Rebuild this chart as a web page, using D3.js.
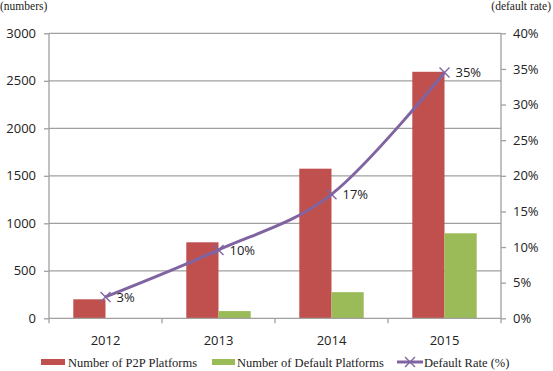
<!DOCTYPE html>
<html><head><meta charset="utf-8">
<script src="https://cdn.jsdelivr.net/npm/d3@7"></script>
<style>body{margin:0;background:#fff}svg{display:block}</style>
</head><body>
<script>
const years = ["2012","2013","2014","2015"];
const p2pPlatforms = [200, 800, 1575, 2595];
const defaultPlatforms = [0, 76, 275, 895];
const defaultRate = [3.0, 9.6, 17.4, 34.5];
const rateLabels = ["3%","10%","17%","35%"];
const leftTicks = [0,500,1000,1500,2000,2500,3000];
const rightTicks = [0,5,10,15,20,25,30,35,40];

const W=553,H=371;
const L=49,R=501,T=33.3,B=318.3;
const svg=d3.select("body").append("svg").attr("width",W).attr("height",H);
const sans="'Open Sans', sans-serif", serif="'Liberation Serif','Times New Roman',serif";
const grid="#a0a0a0";

const x=d3.scaleBand().domain(years).range([L,R]).padding(0);
const y=d3.scaleLinear().domain([0,3000]).range([B,T]);
const y2=d3.scaleLinear().domain([0,40]).range([B,T]);
const bw=x.bandwidth()*0.285;

// gridlines
svg.append("g").selectAll("line").data(leftTicks.slice(1)).join("line")
 .attr("x1",L).attr("x2",R).attr("y1",d=>y(d)).attr("y2",d=>y(d))
 .attr("stroke",grid).attr("stroke-width",1.3);

// bars
const cx=d=>x(d)+x.bandwidth()/2;
svg.append("g").selectAll("rect").data(years).join("rect")
 .attr("x",d=>cx(d)-bw).attr("width",bw)
 .attr("y",(d,i)=>y(p2pPlatforms[i])).attr("height",(d,i)=>B-y(p2pPlatforms[i]))
 .attr("fill","#c0504d");
svg.append("g").selectAll("rect").data(years).join("rect")
 .attr("x",d=>cx(d)).attr("width",bw)
 .attr("y",(d,i)=>y(defaultPlatforms[i])).attr("height",(d,i)=>B-y(defaultPlatforms[i]))
 .attr("fill","#9bbb59");

// left axis
const la=svg.append("g").attr("transform",`translate(${L},0)`)
 .call(d3.axisLeft(y).tickValues(leftTicks).tickSize(5).tickPadding(8).tickFormat(d3.format("d")));
la.select(".domain").attr("stroke",grid).attr("stroke-width",1.3).attr("d",`M0,${T}V${B}`);
la.selectAll(".tick line").attr("stroke",grid).attr("stroke-width",1.3);
la.selectAll("text").attr("font-family",sans).attr("font-size",13).attr("fill","#222");

// right axis
const ra=svg.append("g").attr("transform",`translate(${R},0)`)
 .call(d3.axisRight(y2).tickValues(rightTicks).tickSize(5).tickPadding(7).tickFormat(d=>d+"%"));
ra.select(".domain").attr("stroke",grid).attr("stroke-width",1.3).attr("d",`M0,${T}V${B}`);
ra.selectAll(".tick line").attr("stroke",grid).attr("stroke-width",1.3);
ra.selectAll("text").attr("font-family",sans).attr("font-size",13).attr("fill","#222");

// bottom axis
const ba=svg.append("g").attr("transform",`translate(0,${B})`)
 .call(d3.axisBottom(x).tickSize(0).tickPadding(17));
ba.select(".domain").attr("stroke",grid).attr("stroke-width",1.3).attr("d",`M${L},0H${R}`);
ba.selectAll("text").attr("font-family",sans).attr("font-size",13).attr("fill","#222");
svg.append("g").selectAll("line").data(d3.range(years.length+1)).join("line")
 .attr("x1",i=>L+i*x.step()).attr("x2",i=>L+i*x.step()).attr("y1",B).attr("y2",B+5)
 .attr("stroke",grid).attr("stroke-width",1.3);

// line
const pts=years.map((d,i)=>[cx(d),y2(defaultRate[i])]);
svg.append("path").attr("d",d3.line().curve(d3.curveCardinal.tension(0))(pts))
 .attr("fill","none").attr("stroke","#8064a2").attr("stroke-width",3);
const m=5;
svg.append("g").selectAll("path").data(pts).join("path")
 .attr("d",p=>`M${p[0]-m},${p[1]-m}L${p[0]+m},${p[1]+m}M${p[0]-m},${p[1]+m}L${p[0]+m},${p[1]-m}`)
 .attr("stroke","#8064a2").attr("stroke-width",1.4).attr("fill","none");
svg.append("g").selectAll("text").data(pts).join("text")
 .attr("x",p=>p[0]+11).attr("y",p=>p[1]+5).text((p,i)=>rateLabels[i])
 .attr("font-family",sans).attr("font-size",13).attr("fill","#222");

// axis titles
svg.append("text").attr("x",0).attr("y",10).text("(numbers)")
 .attr("font-family",serif).attr("font-size",11.5).attr("fill","#222");
svg.append("text").attr("x",551).attr("y",10).attr("text-anchor","end").text("(default rate)")
 .attr("font-family",serif).attr("font-size",11.5).attr("fill","#222");

// legend
const ly=362;
const lg=svg.append("g").attr("font-family",serif).attr("font-size",12.5).attr("fill","#222");
lg.append("rect").attr("x",41).attr("y",ly-3).attr("width",24).attr("height",6).attr("fill","#c0504d");
lg.append("text").attr("x",68).attr("y",ly+4.5).text("Number of P2P Platforms");
lg.append("rect").attr("x",212).attr("y",ly-3).attr("width",23).attr("height",6).attr("fill","#9bbb59");
lg.append("text").attr("x",237).attr("y",ly+4.5).text("Number of Default Platforms");
lg.append("line").attr("x1",397).attr("x2",423).attr("y1",ly).attr("y2",ly).attr("stroke","#8064a2").attr("stroke-width",3);
lg.append("path").attr("d",`M${410-m},${ly-m}L${410+m},${ly+m}M${410-m},${ly+m}L${410+m},${ly-m}`)
 .attr("stroke","#8064a2").attr("stroke-width",1.4);
lg.append("text").attr("x",424).attr("y",ly+4.5).text("Default Rate (%)");
</script>
</body></html>
